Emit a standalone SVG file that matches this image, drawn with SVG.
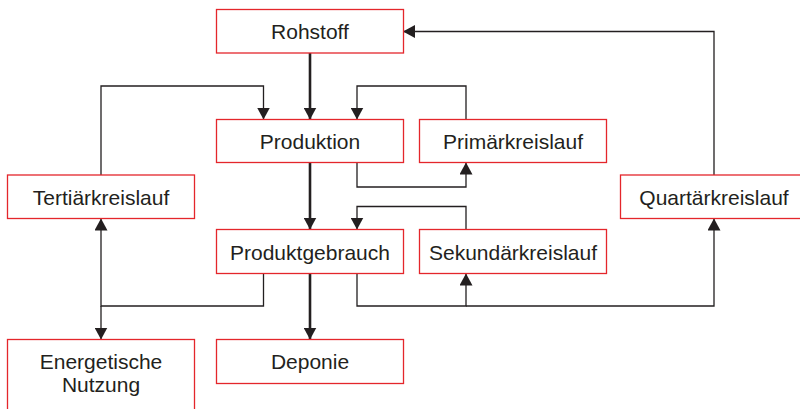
<svg xmlns="http://www.w3.org/2000/svg" width="800" height="409" viewBox="0 0 800 409">
<style>
.box{fill:#fff;stroke:#e4262b;stroke-width:1.3}
.t{font-family:"Liberation Sans",Arial,sans-serif;font-size:21px;fill:#231f20;text-anchor:middle}
.c{fill:none;stroke:#231f20;stroke-width:1.3}
.k{fill:none;stroke:#231f20;stroke-width:2.6}
</style>
<defs>
<marker id="a" viewBox="0 0 12 13" refX="12" refY="6.5" markerWidth="12" markerHeight="13" markerUnits="userSpaceOnUse" orient="auto">
<path d="M0,0 L12,6.5 L0,13 z" fill="#231f20"/>
</marker>
</defs>
<rect width="800" height="409" fill="#fff"/>
<g id="connectors">
<path class="k" d="M310,53 V119.5" marker-end="url(#a)"/>
<path class="c" d="M101,175 V86 H263.5 V119.5" marker-end="url(#a)"/>
<path class="c" d="M466,119.5 V86 H357 V119.5" marker-end="url(#a)"/>
<path class="c" d="M357,162.5 V187 H466 V162.5" marker-end="url(#a)"/>
<path class="k" d="M310,162.5 V229.5" marker-end="url(#a)"/>
<path class="c" d="M466,229.5 V206.5 H357 V229.5" marker-end="url(#a)"/>
<path class="c" d="M357,273.5 V306 H466 V273.5" marker-end="url(#a)"/>
<path class="c" d="M466,306 H714 V218.5" marker-end="url(#a)"/>
<path class="c" d="M714,175 V31.5 H403" marker-end="url(#a)"/>
<path class="c" d="M263.5,273.5 V306 H101 V218.5" marker-end="url(#a)"/>
<path class="c" d="M101,306 V339.5" marker-end="url(#a)"/>
<path class="k" d="M310,273.5 V339.5" marker-end="url(#a)"/>
</g>
<g id="rohstoff"><rect class="box" x="216.5" y="9.5" width="187" height="43.5"/><text class="t" x="310" y="39">Rohstoff</text></g>
<g id="produktion"><rect class="box" x="216.5" y="119.5" width="187" height="43"/><text class="t" x="310" y="149">Produktion</text></g>
<g id="primaerkreislauf"><rect class="box" x="419.5" y="119.5" width="187" height="43"/><text class="t" x="513" y="149">Primärkreislauf</text></g>
<g id="tertiaerkreislauf"><rect class="box" x="7.5" y="175" width="187" height="43.5"/><text class="t" x="101" y="204.5">Tertiärkreislauf</text></g>
<g id="quartaerkreislauf"><rect class="box" x="620.5" y="175" width="187" height="43.5"/><text class="t" x="714" y="204.5">Quartärkreislauf</text></g>
<g id="produktgebrauch"><rect class="box" x="216.5" y="229.5" width="187" height="44"/><text class="t" x="310" y="259.5">Produktgebrauch</text></g>
<g id="sekundaerkreislauf"><rect class="box" x="419.5" y="229.5" width="187" height="44"/><text class="t" x="513" y="259.5">Sekundärkreislauf</text></g>
<g id="energetische-nutzung"><rect class="box" x="7.5" y="339.5" width="187" height="88"/><text class="t" x="101" y="368.5">Energetische</text><text class="t" x="101" y="392">Nutzung</text></g>
<g id="deponie"><rect class="box" x="216.5" y="339.5" width="187" height="44"/><text class="t" x="310" y="369">Deponie</text></g>
</svg>
